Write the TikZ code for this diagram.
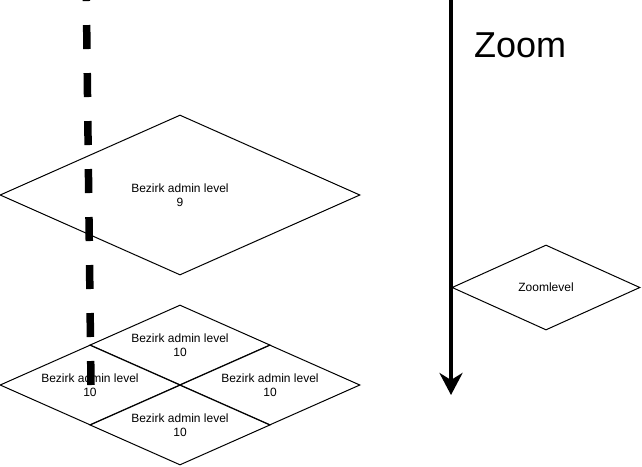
\documentclass[tikz,border=0pt]{standalone}
\usepackage{fontspec}
\setmainfont{Liberation Sans}
\usetikzlibrary{shapes.geometric,arrows.meta}
\begin{document}
\begin{tikzpicture}[x=1pt,y=-1pt,
  dia/.style={diamond,draw=black,fill=white,line width=1pt,inner sep=0pt,align=center,
    font=\fontsize{12}{14}\selectfont},
  bigdia/.style={dia,aspect=2.25,minimum width=360pt,minimum height=160pt},
  smalldia/.style={dia,aspect=2.25,minimum width=180pt,minimum height=80pt},
  zdia/.style={dia,aspect=2.2,minimum width=188pt,minimum height=85pt}]
\useasboundingbox (0,0) rectangle (642,466);
\node[bigdia] (l9) at (180,195) {Bezirk admin level\\9};
\node[smalldia] (t10) at (180,345) {Bezirk admin level\\10};
\node[smalldia] (a10) at (90,385) {Bezirk admin level\\10};
\node[smalldia] (r10) at (270,385) {Bezirk admin level\\10};
\node[smalldia] (b10) at (180,425) {Bezirk admin level\\10};
\node[zdia] (zl) at (546,287.5) {Zoomlevel};
\node[anchor=west,font=\fontsize{36}{40}\selectfont,inner sep=0pt] (zt) at (474,45) {Zoom};
\coordinate (zs) at (451,0);
\coordinate (ze) at (451,395);
\draw[line width=4.5pt,-{Stealth[length=22pt,width=23pt,inset=7pt]}] (zs) -- (ze);
\coordinate (ds) at (91,385);
\coordinate (de) at (86,-30);
\draw[line width=7.5pt,dash pattern=on 24pt off 24pt] (ds) -- (de);
\end{tikzpicture}
\end{document}
